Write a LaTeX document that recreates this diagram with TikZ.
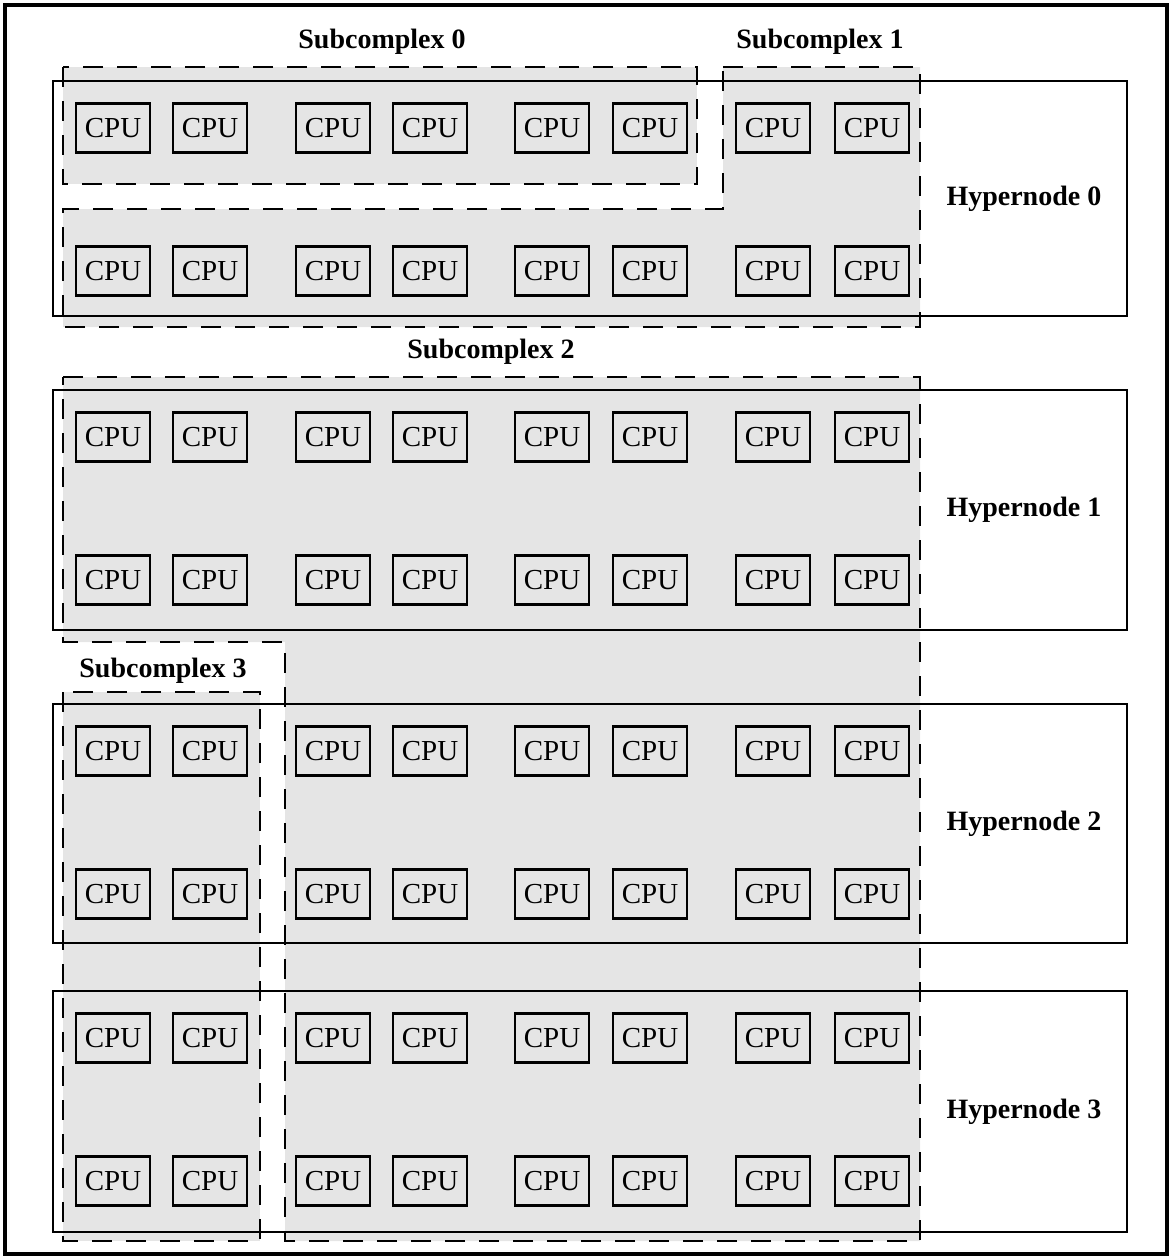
\documentclass[tikz,border=0pt]{standalone}
\usepackage{fontspec}
\setmainfont{Liberation Serif}
\usepackage{tikz}
\usetikzlibrary{positioning,calc}
\definecolor{shadecol}{gray}{0.9}

\begin{document}
\begin{tikzpicture}[x=0.5pt, y=-0.5pt,
  cpu/.style={draw, line width=1.1pt, minimum width=37pt, minimum height=24.5pt,
              inner sep=0pt, font=\fontsize{14.5}{16}\selectfont},
  hyper/.style={draw, line width=1.1pt, minimum width=537pt, inner sep=0pt},
  subcx/.style={draw, line width=1.1pt, dash pattern=on 10pt off 7pt, fill=shadecol},
  sublbl/.style={font=\fontsize{14}{16}\selectfont\bfseries, inner sep=0pt},
  hyplbl/.style={font=\fontsize{14}{16}\selectfont\bfseries, inner sep=0pt, anchor=west}
]
  \useasboundingbox (0,0) rectangle (1171,1259);
  \draw[line width=1.6pt] (5,5) rectangle (1167,1254);

  % subcomplexes
  \path[subcx] (63,67) rectangle (697,184);
  \path[subcx] (723,67) -- (920,67) -- (920,327) -- (63,327) -- (63,209) -- (723,209) -- cycle;
  \path[subcx] (63,377) -- (920,377) -- (920,1241) -- (285,1241) -- (285,642) -- (63,642) -- cycle;
  \path[subcx] (63,692) rectangle (260,1241);

  \node[sublbl] (sc0) at (382,42) {Subcomplex 0};
  \node[sublbl] (sc1) at (820,42) {Subcomplex 1};
  \node[sublbl] (sc2) at (491,352) {Subcomplex 2};
  \node[sublbl] (sc3) at (163,671) {Subcomplex 3};

  % hypernodes
  \foreach \k/\top/\bot in {0/81/316, 1/390/630, 2/704/943, 3/991/1232}{
    \pgfmathsetmacro{\ymid}{(\top+\bot)/2}
    \pgfmathsetmacro{\hgt}{(\bot-\top)/2}
    \node[hyper, minimum height=\hgt pt] (hn\k) at (590,\ymid) {};
    \node[hyplbl] (hlab\k) at ($(hn\k.east)+(-182,0)$) {Hypernode \k};
  }

  % cpus
  \foreach \k/\top in {0/81, 1/390, 2/704, 3/991}
    \foreach \r/\dy in {a/47, b/190}
      \foreach \c/\cx in {1/113, 2/210, 3/333, 4/430, 5/552, 6/650, 7/773, 8/872}
        \node[cpu] (cpu\k\r\c) at (\cx,\top+\dy) {CPU};
\end{tikzpicture}
\end{document}
